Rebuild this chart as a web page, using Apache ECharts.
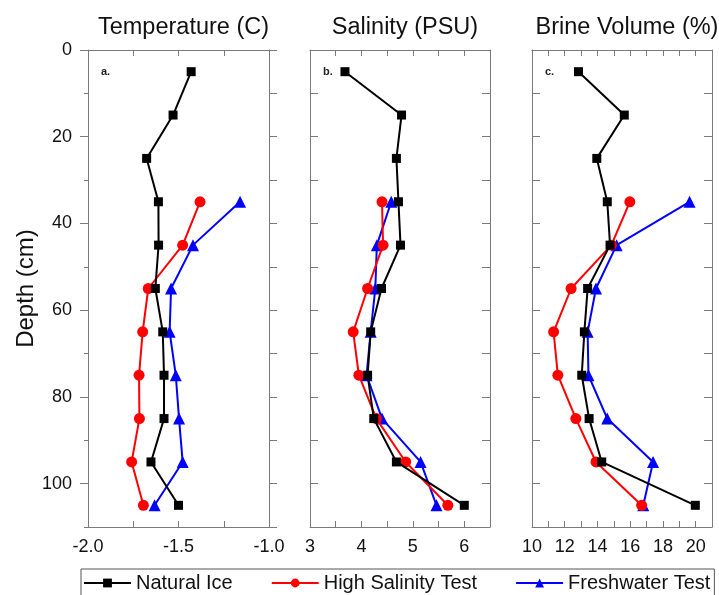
<!DOCTYPE html>
<html>
<head>
<meta charset="utf-8">
<script src="https://cdn.jsdelivr.net/npm/echarts@6/dist/echarts.min.js"></script>
<style>html,body{margin:0;padding:0;background:#fff}#c{width:719px;height:595px}</style>
</head>
<body>
<div id="c"></div>
<script>
const depths = [5, 15, 25, 35, 45, 55, 65, 75, 85, 95, 105];
const testDepths = [35, 45, 55, 65, 75, 85, 95, 105];

const tempNatural = [-1.43, -1.53, -1.676, -1.611, -1.61, -1.628, -1.587, -1.58, -1.58, -1.652, -1.50];
const tempHighSal = [-1.381, -1.477, -1.667, -1.698, -1.718, -1.716, -1.759, -1.694];
const tempFresh   = [-1.16, -1.42, -1.541, -1.549, -1.515, -1.497, -1.477, -1.632];

const salNatural = [3.68, 4.78, 4.68, 4.72, 4.76, 4.39, 4.18, 4.12, 4.24, 4.68, 6.0];
const salHighSal = [4.40, 4.42, 4.12, 3.84, 3.95, 4.29, 4.86, 5.68];
const salFresh   = [4.58, 4.30, 4.27, 4.18, 4.10, 4.40, 5.15, 5.46];

const brineNatural = [12.84, 15.64, 13.96, 14.60, 14.77, 13.4, 13.2, 13.04, 13.49, 14.26, 19.98];
const brineHighSal = [15.98, 14.85, 12.39, 11.32, 11.58, 12.68, 13.91, 16.7];
const brineFresh   = [19.63, 15.17, 13.91, 13.4, 13.45, 14.6, 17.4, 16.8];

// tick labels / tick positions
const depthLabels = [0, 20, 40, 60, 80, 100];
const depthMinorTicks = [10, 30, 50, 70, 90, 110];
const depthAllTicks = [0, 10, 20, 30, 40, 50, 60, 70, 80, 90, 100, 110];
const tempLabels = [-2.0, -1.5, -1.0];
const tempTicks = [-2.0, -1.75, -1.5, -1.25, -1.0];
const salLabels = [3, 4, 5, 6];
const salTicks = [3, 3.5, 4, 4.5, 5, 5.5, 6, 6.5];
const brineLabels = [10, 12, 14, 16, 18, 20];
const brineTicks = [10, 11, 12, 13, 14, 15, 16, 17, 18, 19, 20, 21];

const panelTitles = ['Temperature (C)', 'Salinity (PSU)', 'Brine Volume (%)'];
const panelLetters = ['a.', 'b.', 'c.'];
const seriesNames = ['Natural Ice', 'High Salinity Test', 'Freshwater Test'];

const FONT = 'Liberation Sans, Arial, sans-serif';
const frameColor = '#7a7a7a';

const grids = [
  {left: 88, width: 181, top: 50, bottom: 68},
  {left: 310, width: 180, top: 50, bottom: 68},
  {left: 532, width: 180, top: 50, bottom: 68}
];
const xCfg = [
  {min: -2, max: -1, labels: tempLabels, ticks: tempTicks, fmt: v => Number(v).toFixed(1)},
  {min: 3, max: 6.5, labels: salLabels, ticks: salTicks, fmt: v => String(v)},
  {min: 10, max: 21, labels: brineLabels, ticks: brineTicks, fmt: v => String(v)}
];

const xAxes = [], yAxes = [];
xCfg.forEach((c, i) => {
  ['bottom', 'top'].forEach(pos => {
    xAxes.push({
      type: 'value', gridIndex: i, position: pos, min: c.min, max: c.max,
      axisLine: {show: true, onZero: false, lineStyle: {color: frameColor, width: 1}},
      axisTick: {show: true, inside: true, length: 6, customValues: c.ticks, lineStyle: {color: frameColor, width: 1}},
      splitLine: {show: false},
      axisLabel: pos === 'bottom'
        ? {show: true, customValues: c.labels, formatter: c.fmt, color: '#111', fontSize: 18, fontFamily: FONT, margin: 11}
        : {show: false}
    });
  });
  const outward = i === 0;
  yAxes.push({
    type: 'value', gridIndex: i, position: 'left', min: 0, max: 110, inverse: true,
    name: i === 0 ? 'Depth (cm)' : '', nameLocation: 'middle', nameGap: 50,
    nameTextStyle: {fontSize: 24, fontFamily: FONT, color: '#111'},
    axisLine: {show: true, onZero: false, lineStyle: {color: frameColor, width: 1}},
    axisTick: {show: true, inside: !outward, length: 8,
      customValues: outward ? depthLabels : depthAllTicks, lineStyle: {color: frameColor, width: 1}},
    splitLine: {show: false},
    axisLabel: {show: i === 0, customValues: depthLabels, color: '#111', fontSize: 18, fontFamily: FONT, margin: 16}
  });
  yAxes.push({
    type: 'value', gridIndex: i, position: 'right', min: 0, max: 110, inverse: true,
    axisLine: {show: true, onZero: false, lineStyle: {color: frameColor, width: 1}},
    axisTick: {show: true, inside: !outward, length: 8, customValues: depthAllTicks, lineStyle: {color: frameColor, width: 1}},
    splitLine: {show: false}, axisLabel: {show: false}
  });
});
// short outward minor ticks on the left of panel a
yAxes.push({
  type: 'value', gridIndex: 0, position: 'left', min: 0, max: 110, inverse: true,
  axisLine: {show: false, onZero: false},
  axisTick: {show: true, inside: false, length: 4, customValues: depthMinorTicks, lineStyle: {color: frameColor, width: 1}},
  splitLine: {show: false}, axisLabel: {show: false}
});

const styles = [
  {color: '#000000', symbol: 'rect', size: 9},
  {color: '#ff0000', symbol: 'circle', size: 11},
  {color: '#0000ff', symbol: 'triangle', size: 12}
];
const panelData = [
  [tempNatural, tempHighSal, tempFresh],
  [salNatural, salHighSal, salFresh],
  [brineNatural, brineHighSal, brineFresh]
];
const series = [];
panelData.forEach((sets, p) => {
  sets.forEach((vals, s) => {
    const ds = s === 0 ? depths : testDepths;
    series.push({
      type: 'line', name: seriesNames[s], xAxisIndex: p * 2, yAxisIndex: p * 2,
      data: vals.map((v, k) => [v, ds[k]]),
      symbol: styles[s].symbol, symbolSize: styles[s].size, showAllSymbol: true,
      lineStyle: {color: styles[s].color, width: 2},
      itemStyle: {color: styles[s].color},
      z: 5 - s
    });
  });
});

const titles = [];
panelTitles.forEach((t, i) => {
  titles.push({text: t, left: grids[i].left + grids[i].width / 2, top: 11, textAlign: 'center',
    textStyle: {fontSize: 23.5, fontWeight: 'normal', fontFamily: FONT, color: '#111'}});
  titles.push({text: panelLetters[i], left: grids[i].left + 8, top: 61,
    textStyle: {fontSize: 11, fontWeight: 'bold', fontFamily: FONT, color: '#222'}});
});

const chart = echarts.init(document.getElementById('c'), null, {renderer: 'canvas'});
chart.setOption({
  animation: false,
  backgroundColor: '#fff',
  title: titles,
  grid: grids,
  xAxis: xAxes,
  yAxis: yAxes,
  legend: {
    data: seriesNames, left: 81, top: 569, padding: [4, 4, 12, 2], itemGap: 38,
    itemWidth: 47, itemHeight: 11,
    borderColor: '#555', borderWidth: 1,
    textStyle: {fontSize: 20, fontFamily: FONT, color: '#111'}
  },
  series: series
});
</script>
</body>
</html>
